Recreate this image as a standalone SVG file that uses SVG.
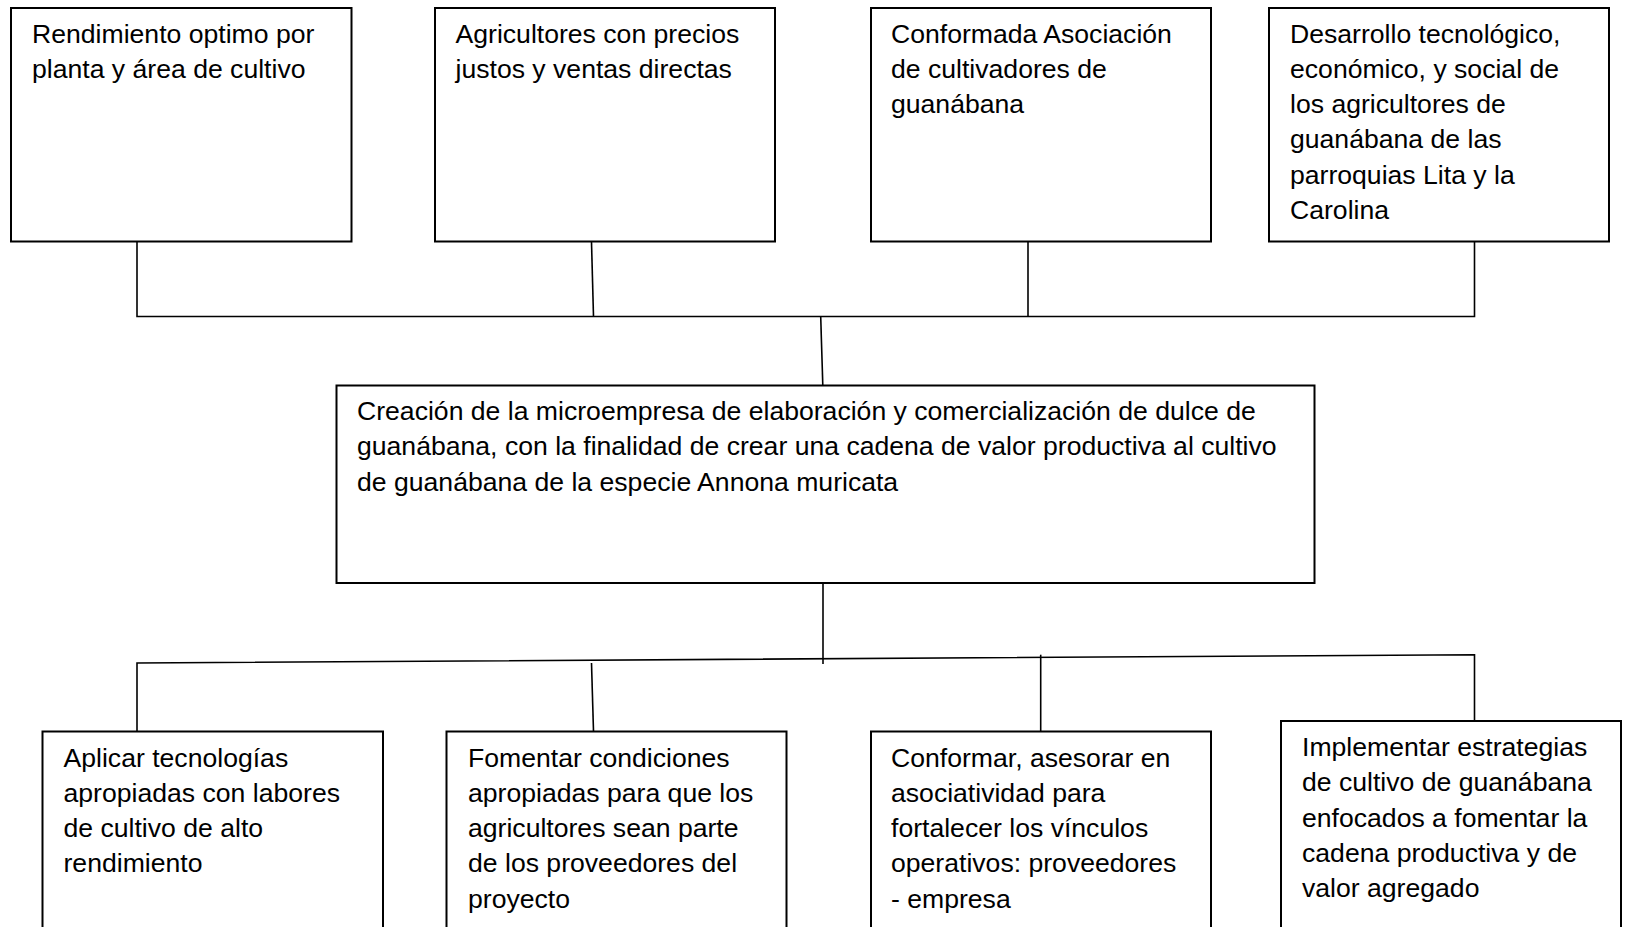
<svg xmlns="http://www.w3.org/2000/svg" width="1627" height="927" viewBox="0 0 1627 927">
<style>
.box{fill:#fff;stroke:#000;stroke-width:2}
.ln{fill:none;stroke:#000;stroke-width:1.6}
text{font-family:"Liberation Sans",Arial,sans-serif;font-size:26.6px;fill:#000}
</style>
<rect width="1627" height="927" fill="#fff"/>
<g id="connectors">
<path class="ln" d="M137,242 V316.5 H1474.5 V242"/>
<path class="ln" d="M591.5,242 L593.5,316.5"/>
<path class="ln" d="M1028,242 V316.5"/>
<path class="ln" d="M820.7,316.5 L822.8,385"/>
<path class="ln" d="M823,583 V664"/>
<path class="ln" d="M137,731.5 V663 L1474.5,654.7 V721"/>
<path class="ln" d="M591.5,663 L593.5,731.5"/>
<path class="ln" d="M1040.7,654.7 V731.5"/>
</g>
<g id="n1">
<rect class="box" x="11" y="8" width="340.5" height="233.5"/>
<text x="32" y="42.5">Rendimiento optimo por</text>
<text x="32" y="77.8">planta y área de cultivo</text>
</g>
<g id="n2">
<rect class="box" x="435" y="8" width="340" height="233.5"/>
<text x="455.5" y="42.5">Agricultores con precios</text>
<text x="455.5" y="77.8">justos y ventas directas</text>
</g>
<g id="n3">
<rect class="box" x="871" y="8" width="340" height="233.5"/>
<text x="891" y="42.5">Conformada Asociación</text>
<text x="891" y="77.8">de cultivadores de</text>
<text x="891" y="113">guanábana</text>
</g>
<g id="n4">
<rect class="box" x="1269" y="8" width="340" height="233.5"/>
<text x="1290" y="42.5">Desarrollo tecnológico,</text>
<text x="1290" y="77.8">económico, y social de</text>
<text x="1290" y="113">los agricultores de</text>
<text x="1290" y="148.3">guanábana de las</text>
<text x="1290" y="183.5">parroquias Lita y la</text>
<text x="1290" y="218.8">Carolina</text>
</g>
<g id="center">
<rect class="box" x="336.5" y="385.5" width="978" height="197.5"/>
<text x="357" y="420">Creación de la microempresa de elaboración y comercialización de dulce de</text>
<text x="357" y="455.3">guanábana, con la finalidad de crear una cadena de valor productiva al cultivo</text>
<text x="357" y="490.5">de guanábana de la especie Annona muricata</text>
</g>
<g id="b1">
<rect class="box" x="42.5" y="731.5" width="340.5" height="210"/>
<text x="63.5" y="766.5">Aplicar tecnologías</text>
<text x="63.5" y="801.8">apropiadas con labores</text>
<text x="63.5" y="837">de cultivo de alto</text>
<text x="63.5" y="872.3">rendimiento</text>
</g>
<g id="b2">
<rect class="box" x="446.5" y="731.5" width="340" height="210"/>
<text x="468" y="766.5">Fomentar condiciones</text>
<text x="468" y="801.8">apropiadas para que los</text>
<text x="468" y="837">agricultores sean parte</text>
<text x="468" y="872.3">de los proveedores del</text>
<text x="468" y="907.5">proyecto</text>
</g>
<g id="b3">
<rect class="box" x="871" y="731.5" width="340" height="210"/>
<text x="891" y="766.5">Conformar, asesorar en</text>
<text x="891" y="801.8">asociatividad para</text>
<text x="891" y="837">fortalecer los vínculos</text>
<text x="891" y="872.3">operativos: proveedores</text>
<text x="891" y="907.5">- empresa</text>
</g>
<g id="b4">
<rect class="box" x="1281" y="721" width="340" height="220"/>
<text x="1302" y="756">Implementar estrategias</text>
<text x="1302" y="791.3">de cultivo de guanábana</text>
<text x="1302" y="826.5">enfocados a fomentar la</text>
<text x="1302" y="861.8">cadena productiva y de</text>
<text x="1302" y="897">valor agregado</text>
</g>
</svg>
